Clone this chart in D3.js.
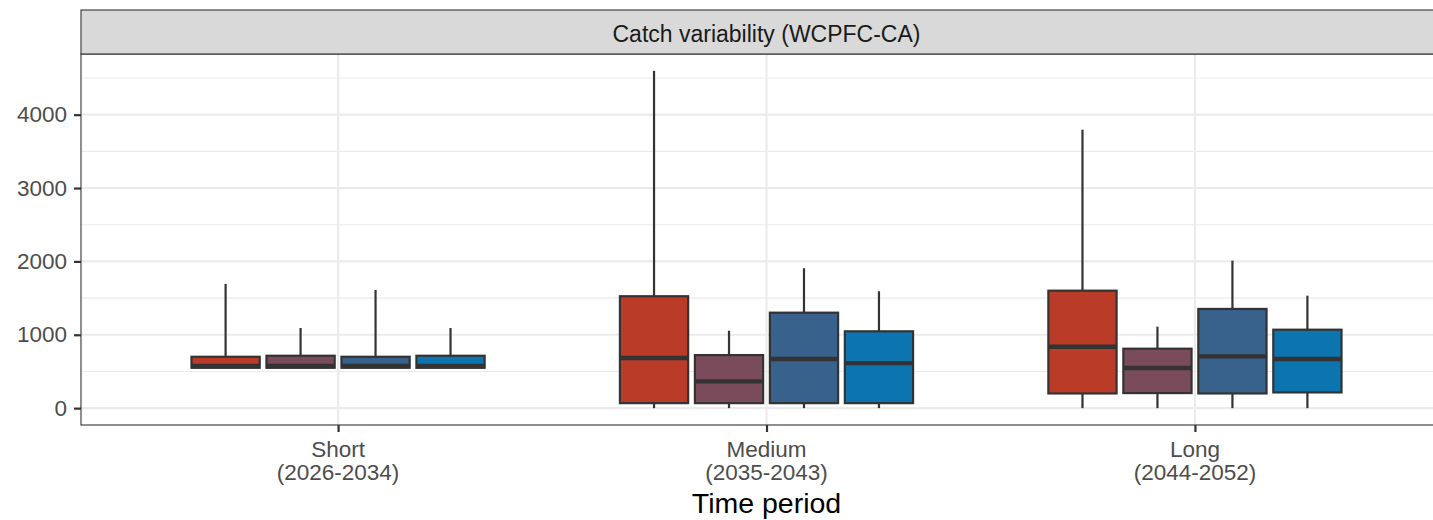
<!DOCTYPE html>
<html><head><meta charset="utf-8">
<script src="https://cdn.jsdelivr.net/npm/d3@7"></script>
<style>body{margin:0;background:#fff}svg{display:block}text{font-family:"Liberation Sans",Arial,sans-serif}</style>
</head><body><svg id="c" width="1433" height="520"></svg>
<script>
const periods = ["Short\n(2026-2034)", "Medium\n(2035-2043)", "Long\n(2044-2052)"];
const seriesNames = ["S1", "S2", "S3", "S4"];
const colors = ["#BA3C28", "#7A4C5B", "#38618B", "#0C75B0"];
const yTicks = [0, 1000, 2000, 3000, 4000];
// per period, per series: [min, q1, median, q3, max]
const shortStats = [[550,550,575,700,1693],[550,550,575,714,1092],[550,550,575,700,1611],[550,550,575,714,1092]];
const mediumStats = [[0,68,683,1525,4597],[0,68,364,723,1055],[0,68,669,1301,1907],[0,68,614,1047,1593]];
const longStats = [[0,200,837,1601,3795],[0,205,546,810,1110],[0,200,705,1352,2011],[0,214,669,1069,1533]];
const allStats = [shortStats, mediumStats, longStats];

const svg = d3.select("#c");
const pl = 81, pr = 1452, pt = 54, pb = 425;
const step = (pr-pl)/3.2;
const xp = d3.scalePoint().domain(periods).range([pl + 0.6*step, pr - 0.6*step]);
const y = d3.scaleLinear().domain([-230, 4827]).range([pb, pt]);
const dodge = d3.scaleBand().domain(seriesNames).range([-0.35*step, 0.35*step]);
const bw = dodge.bandwidth()*0.91;

// panel background and grid
svg.append("rect").attr("x", pl).attr("y", pt).attr("width", pr-pl).attr("height", pb-pt).attr("fill", "#fff");
svg.append("g").selectAll("line").data(d3.range(500, 4800, 1000)).join("line")
  .attr("x1", pl).attr("x2", pr).attr("y1", d => y(d)).attr("y2", d => y(d))
  .attr("stroke", "#EBEBEB").attr("stroke-width", 1.1);
svg.append("g").selectAll("line").data(yTicks).join("line")
  .attr("x1", pl).attr("x2", pr).attr("y1", d => y(d)).attr("y2", d => y(d))
  .attr("stroke", "#EBEBEB").attr("stroke-width", 2.2);
svg.append("g").selectAll("line").data(periods).join("line")
  .attr("x1", d => xp(d)).attr("x2", d => xp(d)).attr("y1", pt).attr("y2", pb)
  .attr("stroke", "#EBEBEB").attr("stroke-width", 2.2);

// boxes
periods.forEach((p, pi) => {
  const g = svg.append("g");
  seriesNames.forEach((s, si) => {
    const st = allStats[pi][si];
    const cx = xp(p) + dodge(s) + dodge.bandwidth()/2;
    g.append("line").attr("x1", cx).attr("x2", cx).attr("y1", y(st[3])).attr("y2", y(st[4]))
      .attr("stroke", "#333").attr("stroke-width", 2.2);
    g.append("line").attr("x1", cx).attr("x2", cx).attr("y1", y(st[1])).attr("y2", y(st[0]))
      .attr("stroke", "#333").attr("stroke-width", 2.2);
    g.append("rect").attr("x", cx - bw/2).attr("y", y(st[3])).attr("width", bw)
      .attr("height", Math.max(0, y(st[1]) - y(st[3])))
      .attr("fill", colors[si]).attr("stroke", "#333").attr("stroke-width", 2.2);
    g.append("line").attr("x1", cx - bw/2).attr("x2", cx + bw/2).attr("y1", y(st[2])).attr("y2", y(st[2]))
      .attr("stroke", "#333").attr("stroke-width", 4.4);
  });
});

// panel border
svg.append("rect").attr("x", pl).attr("y", pt).attr("width", pr-pl).attr("height", pb-pt)
  .attr("fill", "none").attr("stroke", "#333").attr("stroke-width", 1.1);

// strip
svg.append("rect").attr("x", pl).attr("y", 10).attr("width", pr-pl).attr("height", pt-10)
  .attr("fill", "#D9D9D9").attr("stroke", "#333").attr("stroke-width", 1.1);
svg.append("text").attr("x", (pl+pr)/2).attr("y", 41.5).attr("text-anchor", "middle")
  .attr("font-size", 23).attr("fill", "#1A1A1A")
  .text("Catch variability (WCPFC-CA)");

// y axis
const ya = svg.append("g").attr("transform", `translate(${pl},0)`)
  .call(d3.axisLeft(y).tickValues(yTicks).tickSize(7).tickPadding(7).tickFormat(d3.format("d")));
ya.select(".domain").remove();
ya.selectAll(".tick line").attr("stroke", "#333").attr("stroke-width", 2.2);
ya.selectAll(".tick text").attr("fill", "#4D4D4D").attr("font-size", 22.5)
  .attr("font-family", '"Liberation Sans",Arial,sans-serif');

// x axis
const xa = svg.append("g").attr("transform", `translate(0,${pb})`)
  .call(d3.axisBottom(xp).tickSize(7).tickPadding(4).tickFormat(""));
xa.select(".domain").remove();
xa.selectAll(".tick line").attr("stroke", "#333").attr("stroke-width", 2.2);
periods.forEach(p => {
  const lines = p.split("\n");
  const t = svg.append("text").attr("text-anchor", "middle").attr("fill", "#4D4D4D").attr("font-size", 22.5);
  lines.forEach((l, i) => t.append("tspan").attr("x", xp(p)).attr("y", 457 + i*23).text(l));
});
svg.append("text").attr("x", xp(periods[1])).attr("y", 513).attr("text-anchor", "middle")
  .attr("font-size", 28.5).attr("fill", "#000").text("Time period");
</script></body></html>
